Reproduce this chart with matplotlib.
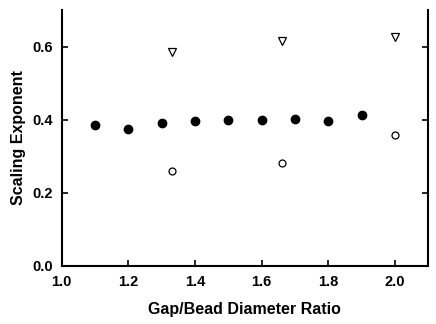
import matplotlib
matplotlib.use("Agg")
import matplotlib.pyplot as plt

plt.rcParams['font.family'] = ['Liberation Sans', 'DejaVu Sans']

x_filled = [1.1, 1.2, 1.3, 1.4, 1.5, 1.6, 1.7, 1.8, 1.9]
y_filled = [0.384, 0.375, 0.392, 0.397, 0.398, 0.400, 0.402, 0.396, 0.413]
x_tri = [1.33, 1.66, 2.0]
y_tri = [0.585, 0.615, 0.626]
x_open = [1.33, 1.66, 2.0]
y_open = [0.259, 0.280, 0.358]

xticks = [1.0, 1.2, 1.4, 1.6, 1.8, 2.0]
yticks = [0.0, 0.2, 0.4, 0.6]

fig = plt.figure(figsize=(4.36, 3.24), dpi=100)
ax = fig.add_axes([0.1415, 0.180, 0.8405, 0.789])

ax.plot(x_filled, y_filled, 'o', color='black', markersize=6, linestyle='none')
ax.plot(x_tri, y_tri, 'v', markerfacecolor='white', markeredgecolor='black',
        markersize=5.5, markeredgewidth=0.9, linestyle='none')
ax.plot(x_open, y_open, 'o', markerfacecolor='white', markeredgecolor='black',
        markersize=5, markeredgewidth=0.9, linestyle='none')

ax.set_xlim(1.0, 2.1)
ax.set_ylim(0.0, 0.7)
ax.set_xticks(xticks)
ax.set_yticks(yticks)
ax.set_xticklabels([f"{v:.1f}" for v in xticks], fontweight='bold', fontsize=10.5)
ax.set_yticklabels([f"{v:.1f}" for v in yticks], fontweight='bold', fontsize=10.5)
ax.tick_params(axis='x', direction='in', length=4, width=1.2, pad=7)
ax.tick_params(axis='y', direction='in', length=4, width=1.2, right=True, pad=6)
ax.spines['top'].set_visible(False)
for s in ['left', 'right', 'bottom']:
    ax.spines[s].set_linewidth(1.5)

ax.set_xlabel('Gap/Bead Diameter Ratio', fontweight='bold', fontsize=11.5, labelpad=9)
ax.set_ylabel('Scaling Exponent', fontweight='bold', fontsize=11.5, labelpad=5)

fig.savefig('out.png', dpi=100)
